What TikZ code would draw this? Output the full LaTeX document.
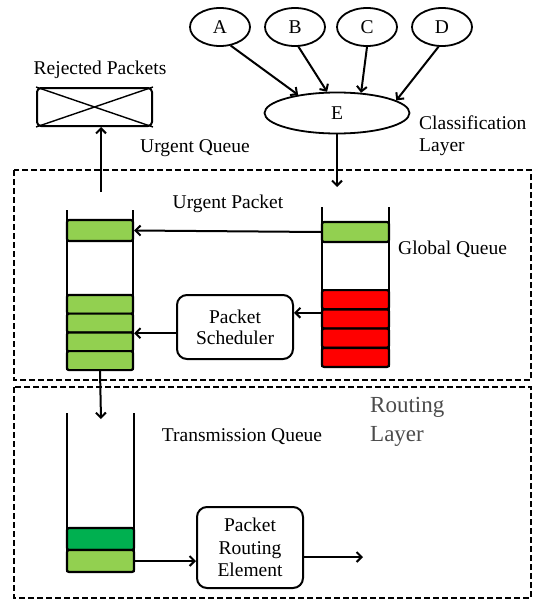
\documentclass[tikz,border=0pt]{standalone}
\usepackage{fontspec}
\setmainfont{Liberation Serif}
\usetikzlibrary{shapes.geometric,arrows.meta}
\definecolor{pktgreen}{HTML}{92D050}
\definecolor{pktdark}{HTML}{00B050}
\definecolor{pktred}{HTML}{FF0000}
\tikzset{
  lbl/.style={font=\fontsize{19.5}{22}\selectfont, inner sep=0pt},
  srcnode/.style={draw, ellipse, line width=1.8pt, minimum width=60, minimum height=38, inner sep=0pt, font=\fontsize{19.5}{22}\selectfont},
  cell/.style={draw, line width=2.2pt, rounded corners=2pt, minimum width=66, minimum height=19, inner sep=0pt},
  procbox/.style={draw, line width=2pt, rounded corners=10pt, align=center, inner sep=0pt, font=\fontsize{19.5}{21}\selectfont},
  flow/.style={-{Straight Barb[length=5pt,width=10pt]}, line width=2pt},
  wall/.style={line width=1.6pt},
  layerbox/.style={line width=1.6pt, dash pattern=on 6pt off 3pt}
}
\begin{document}
\begin{tikzpicture}[x=1pt, y=-1pt]
    \useasboundingbox (0,0) rectangle (534,602);
    \fill[white] (0,0) rectangle (534,602);
    % classification layer
    \node[srcnode] (A) at (220,27) {A};
    \node[srcnode] (B) at (295,27) {B};
    \node[srcnode] (C) at (367,27) {C};
    \node[srcnode] (D) at (442,27) {D};
    \node[srcnode, minimum width=145, minimum height=41] (E) at (337,113) {E};
    \draw[flow] (A.-60) -- (E.155);
    \draw[flow] (B.-80) -- (E.115);
    \draw[flow] (C.south) -- (E.40);
    \draw[flow] (D.-100) -- (E.12);
    \node[lbl, anchor=west, align=left] (clslbl) at (419,136) {Classification\\Layer};
    \coordinate (gqin) at (337,187);
    \draw[flow] (E.south) -- (gqin);
    % layers
    \draw[layerbox] (14,170) rectangle (531,380);
    \draw[layerbox] (14,387) rectangle (531,598);
    % rejected packets
    \node[draw, line width=2pt, rounded corners=4pt, minimum width=115, minimum height=38] (rej) at (94.5,107) {};
    \draw[line width=1.4pt] (rej.north west) -- (rej.south east);
    \draw[line width=1.4pt] (rej.south west) -- (rej.north east);
    \node[lbl] (rejlbl) at (100,70) {Rejected Packets};
    \node[lbl] (uqlbl) at (195,148) {Urgent Queue};
    \coordinate (uqout) at (101,192);
    \draw[flow] (uqout) -- (uqout |- rej.south);
    % urgent queue
    \draw[wall] (67,210) -- (67,370);
    \draw[wall] (133,210) -- (133,370);
    \node[cell, fill=pktgreen, minimum height=21] (uq0) at (100,230.5) {};
    \foreach \i/\y in {1/304.4, 2/323.1, 3/341.9, 4/360.6}
      \node[cell, fill=pktgreen] (uq\i) at (100,\y) {};
    % global queue
    \draw[wall] (322,207) -- (322,367);
    \draw[wall] (389,207) -- (389,367);
    \node[cell, fill=pktgreen, minimum width=67, minimum height=20] (gq0) at (355.5,232) {};
    \foreach \i/\y in {1/299.6, 2/318.9, 3/338.1, 4/357.4}
      \node[cell, fill=pktred, minimum width=67] (gq\i) at (355.5,\y) {};
    \node[lbl, anchor=west] (gqlbl) at (398,249) {Global Queue};
    \draw[flow] (gq0.west) -- (uq0.east);
    \node[lbl] (uplbl) at (228,204) {Urgent Packet};
    \node[procbox, minimum width=116, minimum height=64] (sched) at (235,327) {Packet\\Scheduler};
    \draw[flow] (gq2.170) -- (gq2.170 -| sched.east);
    \draw[flow] (sched.-174) -- (sched.-174 -| uq3.east);
    % routing layer
    \coordinate (tqin) at (101,419);
    \draw[flow] (uq4.south) -- (tqin);
    \draw[wall] (67,413) -- (67,572);
    \draw[wall] (134,413) -- (134,572);
    \node[cell, fill=pktdark, minimum width=67, minimum height=22] (tq1) at (100.5,539) {};
    \node[cell, fill=pktgreen, minimum width=67, minimum height=22] (tq2) at (100.5,561) {};
    \node[lbl] (tqlbl) at (242,437) {Transmission Queue};
    \node[lbl, anchor=west, align=left, text=black!70, font=\fontsize{23}{29}\selectfont] (rtlbl) at (370,422) {Routing\\Layer};
    \node[procbox, minimum width=106, minimum height=81, font=\fontsize{19.5}{22.5}\selectfont] (route) at (250,547.5) {Packet\\Routing\\Element};
    \draw[flow] (tq2.east) -- (tq2.east -| route.west);
    \coordinate (rtout) at (363,557);
    \draw[flow] (route.-10) -- (route.-10 -| rtout);
  \end{tikzpicture}
\end{document}
